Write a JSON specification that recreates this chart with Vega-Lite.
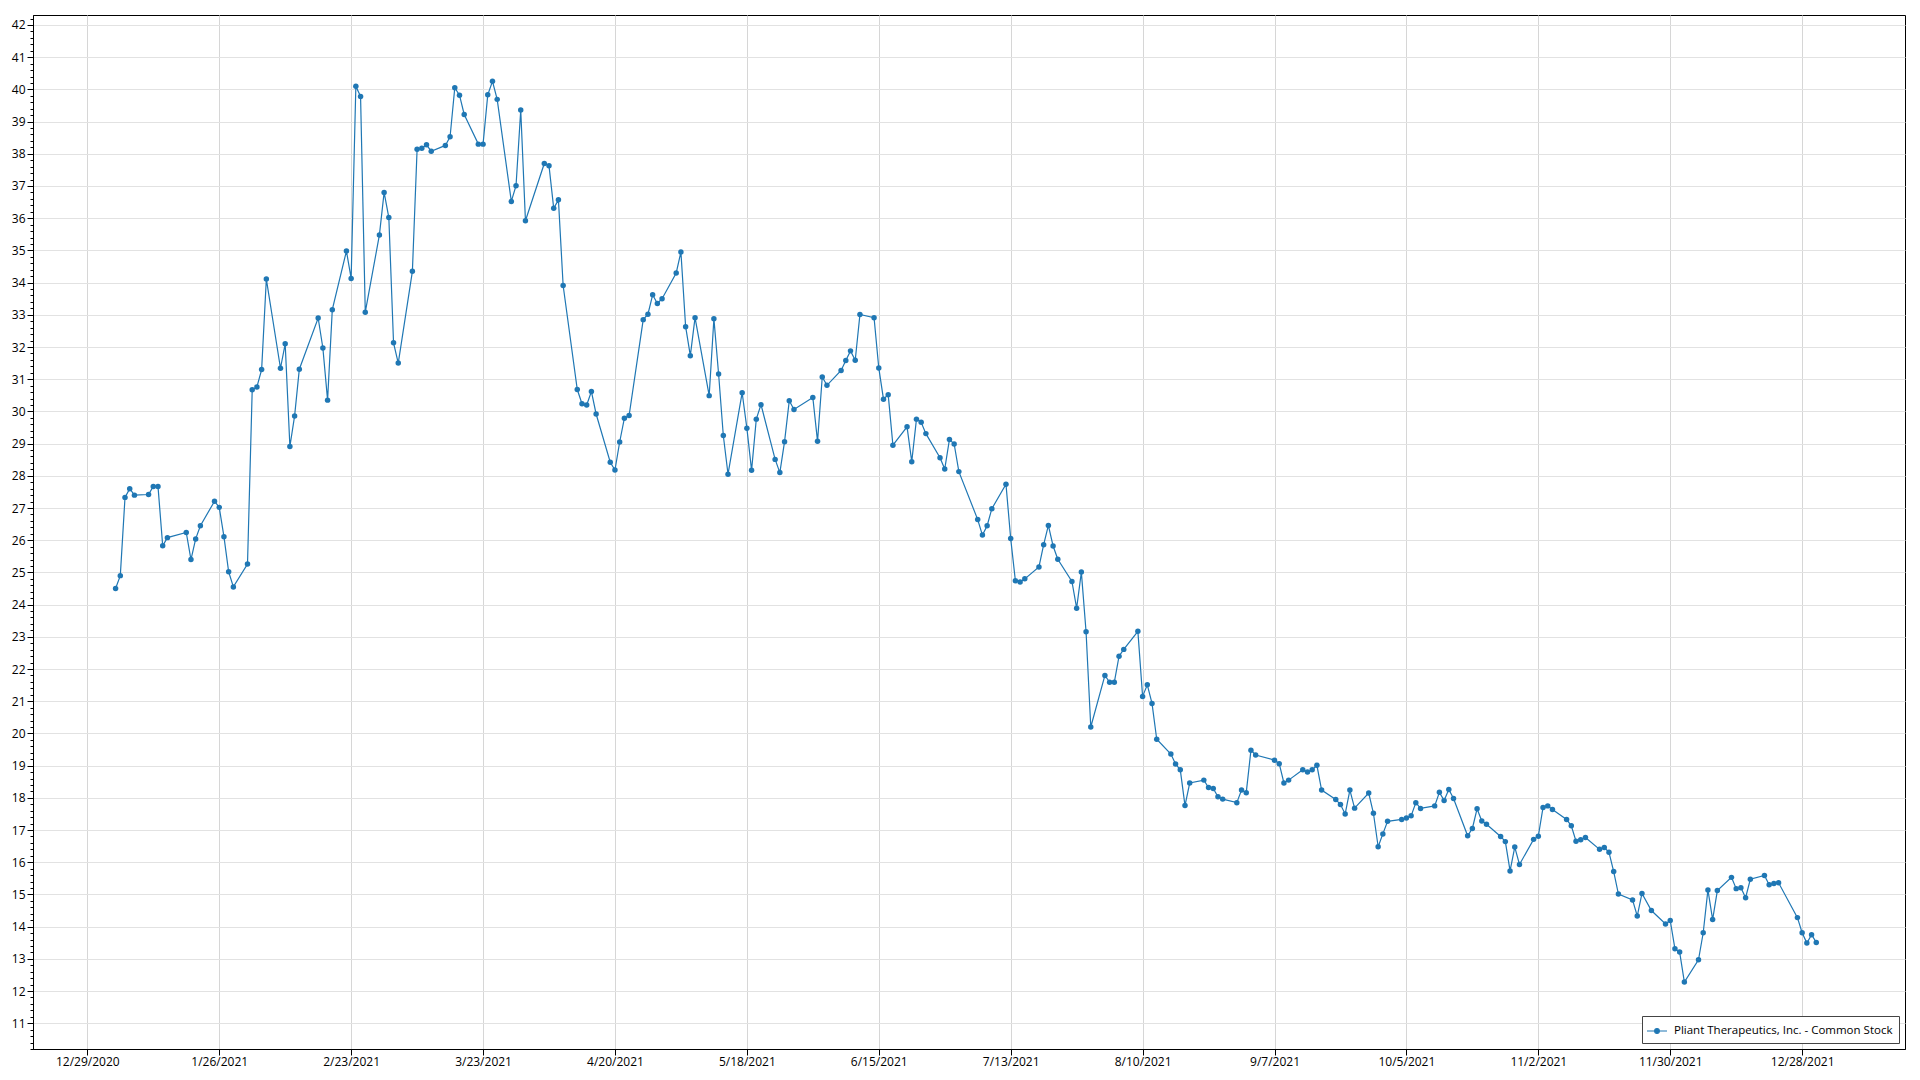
{
  "$schema": "https://vega.github.io/schema/vega-lite/v6.json",
  "autosize": "none",
  "width": 1872,
  "height": 1034,
  "padding": {"left": 33, "top": 15, "right": 15, "bottom": 31},
  "background": "white",
  "config": {
    "view": {"stroke": "#000000", "strokeWidth": 1},
    "axis": {"domainColor": "#000000", "tickColor": "#000000", "labelColor": "#000000", "labelFont": "Open Sans", "labelFontSize": 12, "title": null}
  },
  "data": {
    "values": [
      {"date": "2021-01-04", "close": 24.5}, {"date": "2021-01-05", "close": 24.9}, {"date": "2021-01-06", "close": 27.33}, {"date": "2021-01-07", "close": 27.6}, {"date": "2021-01-08", "close": 27.4},
      {"date": "2021-01-11", "close": 27.42}, {"date": "2021-01-12", "close": 27.67}, {"date": "2021-01-13", "close": 27.67}, {"date": "2021-01-14", "close": 25.83}, {"date": "2021-01-15", "close": 26.08},
      {"date": "2021-01-19", "close": 26.24}, {"date": "2021-01-20", "close": 25.4}, {"date": "2021-01-21", "close": 26.04}, {"date": "2021-01-22", "close": 26.45},
      {"date": "2021-01-25", "close": 27.21}, {"date": "2021-01-26", "close": 27.02}, {"date": "2021-01-27", "close": 26.11}, {"date": "2021-01-28", "close": 25.02}, {"date": "2021-01-29", "close": 24.55},
      {"date": "2021-02-01", "close": 25.26}, {"date": "2021-02-02", "close": 30.67}, {"date": "2021-02-03", "close": 30.76}, {"date": "2021-02-04", "close": 31.3}, {"date": "2021-02-05", "close": 34.11},
      {"date": "2021-02-08", "close": 31.34}, {"date": "2021-02-09", "close": 32.1}, {"date": "2021-02-10", "close": 28.91}, {"date": "2021-02-11", "close": 29.86}, {"date": "2021-02-12", "close": 31.31},
      {"date": "2021-02-16", "close": 32.9}, {"date": "2021-02-17", "close": 31.97}, {"date": "2021-02-18", "close": 30.35}, {"date": "2021-02-19", "close": 33.16},
      {"date": "2021-02-22", "close": 34.98}, {"date": "2021-02-23", "close": 34.13}, {"date": "2021-02-24", "close": 40.1}, {"date": "2021-02-25", "close": 39.78}, {"date": "2021-02-26", "close": 33.08},
      {"date": "2021-03-01", "close": 35.48}, {"date": "2021-03-02", "close": 36.8}, {"date": "2021-03-03", "close": 36.02}, {"date": "2021-03-04", "close": 32.13}, {"date": "2021-03-05", "close": 31.5},
      {"date": "2021-03-08", "close": 34.35}, {"date": "2021-03-09", "close": 38.14}, {"date": "2021-03-10", "close": 38.17}, {"date": "2021-03-11", "close": 38.28}, {"date": "2021-03-12", "close": 38.08},
      {"date": "2021-03-15", "close": 38.26}, {"date": "2021-03-16", "close": 38.53}, {"date": "2021-03-17", "close": 40.05}, {"date": "2021-03-18", "close": 39.82}, {"date": "2021-03-19", "close": 39.22},
      {"date": "2021-03-22", "close": 38.3}, {"date": "2021-03-23", "close": 38.3}, {"date": "2021-03-24", "close": 39.83}, {"date": "2021-03-25", "close": 40.25}, {"date": "2021-03-26", "close": 39.69},
      {"date": "2021-03-29", "close": 36.52}, {"date": "2021-03-30", "close": 37.01}, {"date": "2021-03-31", "close": 39.36},
      {"date": "2021-04-01", "close": 35.92},
      {"date": "2021-04-05", "close": 37.7}, {"date": "2021-04-06", "close": 37.63}, {"date": "2021-04-07", "close": 36.31}, {"date": "2021-04-08", "close": 36.57}, {"date": "2021-04-09", "close": 33.91},
      {"date": "2021-04-12", "close": 30.68}, {"date": "2021-04-13", "close": 30.24}, {"date": "2021-04-14", "close": 30.2}, {"date": "2021-04-15", "close": 30.62}, {"date": "2021-04-16", "close": 29.92},
      {"date": "2021-04-19", "close": 28.42}, {"date": "2021-04-20", "close": 28.18}, {"date": "2021-04-21", "close": 29.05}, {"date": "2021-04-22", "close": 29.79}, {"date": "2021-04-23", "close": 29.87},
      {"date": "2021-04-26", "close": 32.85}, {"date": "2021-04-27", "close": 33.02}, {"date": "2021-04-28", "close": 33.62}, {"date": "2021-04-29", "close": 33.35}, {"date": "2021-04-30", "close": 33.5},
      {"date": "2021-05-03", "close": 34.3}, {"date": "2021-05-04", "close": 34.95}, {"date": "2021-05-05", "close": 32.63}, {"date": "2021-05-06", "close": 31.73}, {"date": "2021-05-07", "close": 32.91},
      {"date": "2021-05-10", "close": 30.49}, {"date": "2021-05-11", "close": 32.88}, {"date": "2021-05-12", "close": 31.16}, {"date": "2021-05-13", "close": 29.25}, {"date": "2021-05-14", "close": 28.05},
      {"date": "2021-05-17", "close": 30.58}, {"date": "2021-05-18", "close": 29.48}, {"date": "2021-05-19", "close": 28.17}, {"date": "2021-05-20", "close": 29.76}, {"date": "2021-05-21", "close": 30.21},
      {"date": "2021-05-24", "close": 28.51}, {"date": "2021-05-25", "close": 28.1}, {"date": "2021-05-26", "close": 29.06}, {"date": "2021-05-27", "close": 30.33}, {"date": "2021-05-28", "close": 30.06},
      {"date": "2021-06-01", "close": 30.43}, {"date": "2021-06-02", "close": 29.07}, {"date": "2021-06-03", "close": 31.07}, {"date": "2021-06-04", "close": 30.81},
      {"date": "2021-06-07", "close": 31.27}, {"date": "2021-06-08", "close": 31.58}, {"date": "2021-06-09", "close": 31.88}, {"date": "2021-06-10", "close": 31.59}, {"date": "2021-06-11", "close": 33.01},
      {"date": "2021-06-14", "close": 32.91}, {"date": "2021-06-15", "close": 31.35}, {"date": "2021-06-16", "close": 30.38}, {"date": "2021-06-17", "close": 30.52}, {"date": "2021-06-18", "close": 28.95},
      {"date": "2021-06-21", "close": 29.52}, {"date": "2021-06-22", "close": 28.44}, {"date": "2021-06-23", "close": 29.76}, {"date": "2021-06-24", "close": 29.66}, {"date": "2021-06-25", "close": 29.31},
      {"date": "2021-06-28", "close": 28.56}, {"date": "2021-06-29", "close": 28.21}, {"date": "2021-06-30", "close": 29.13},
      {"date": "2021-07-01", "close": 28.99}, {"date": "2021-07-02", "close": 28.13},
      {"date": "2021-07-06", "close": 26.64}, {"date": "2021-07-07", "close": 26.16}, {"date": "2021-07-08", "close": 26.45}, {"date": "2021-07-09", "close": 26.98},
      {"date": "2021-07-12", "close": 27.74}, {"date": "2021-07-13", "close": 26.05}, {"date": "2021-07-14", "close": 24.74}, {"date": "2021-07-15", "close": 24.7}, {"date": "2021-07-16", "close": 24.8},
      {"date": "2021-07-19", "close": 25.17}, {"date": "2021-07-20", "close": 25.86}, {"date": "2021-07-21", "close": 26.46}, {"date": "2021-07-22", "close": 25.82}, {"date": "2021-07-23", "close": 25.41},
      {"date": "2021-07-26", "close": 24.72}, {"date": "2021-07-27", "close": 23.89}, {"date": "2021-07-28", "close": 25.01}, {"date": "2021-07-29", "close": 23.16}, {"date": "2021-07-30", "close": 20.2},
      {"date": "2021-08-02", "close": 21.8}, {"date": "2021-08-03", "close": 21.59}, {"date": "2021-08-04", "close": 21.59}, {"date": "2021-08-05", "close": 22.4}, {"date": "2021-08-06", "close": 22.61},
      {"date": "2021-08-09", "close": 23.17}, {"date": "2021-08-10", "close": 21.15}, {"date": "2021-08-11", "close": 21.51}, {"date": "2021-08-12", "close": 20.93}, {"date": "2021-08-13", "close": 19.82},
      {"date": "2021-08-16", "close": 19.36}, {"date": "2021-08-17", "close": 19.05}, {"date": "2021-08-18", "close": 18.87}, {"date": "2021-08-19", "close": 17.76}, {"date": "2021-08-20", "close": 18.46},
      {"date": "2021-08-23", "close": 18.55}, {"date": "2021-08-24", "close": 18.32}, {"date": "2021-08-25", "close": 18.29}, {"date": "2021-08-26", "close": 18.03}, {"date": "2021-08-27", "close": 17.96},
      {"date": "2021-08-30", "close": 17.85}, {"date": "2021-08-31", "close": 18.24},
      {"date": "2021-09-01", "close": 18.16}, {"date": "2021-09-02", "close": 19.48}, {"date": "2021-09-03", "close": 19.33},
      {"date": "2021-09-07", "close": 19.17}, {"date": "2021-09-08", "close": 19.06}, {"date": "2021-09-09", "close": 18.46}, {"date": "2021-09-10", "close": 18.55},
      {"date": "2021-09-13", "close": 18.87}, {"date": "2021-09-14", "close": 18.8}, {"date": "2021-09-15", "close": 18.87}, {"date": "2021-09-16", "close": 19.01}, {"date": "2021-09-17", "close": 18.24},
      {"date": "2021-09-20", "close": 17.95}, {"date": "2021-09-21", "close": 17.79}, {"date": "2021-09-22", "close": 17.5}, {"date": "2021-09-23", "close": 18.24}, {"date": "2021-09-24", "close": 17.68},
      {"date": "2021-09-27", "close": 18.15}, {"date": "2021-09-28", "close": 17.52}, {"date": "2021-09-29", "close": 16.48}, {"date": "2021-09-30", "close": 16.88},
      {"date": "2021-10-01", "close": 17.27},
      {"date": "2021-10-04", "close": 17.33}, {"date": "2021-10-05", "close": 17.37}, {"date": "2021-10-06", "close": 17.44}, {"date": "2021-10-07", "close": 17.85}, {"date": "2021-10-08", "close": 17.67},
      {"date": "2021-10-11", "close": 17.75}, {"date": "2021-10-12", "close": 18.17}, {"date": "2021-10-13", "close": 17.92}, {"date": "2021-10-14", "close": 18.26}, {"date": "2021-10-15", "close": 17.98},
      {"date": "2021-10-18", "close": 16.82}, {"date": "2021-10-19", "close": 17.05}, {"date": "2021-10-20", "close": 17.66}, {"date": "2021-10-21", "close": 17.28}, {"date": "2021-10-22", "close": 17.18},
      {"date": "2021-10-25", "close": 16.8}, {"date": "2021-10-26", "close": 16.64}, {"date": "2021-10-27", "close": 15.73}, {"date": "2021-10-28", "close": 16.47}, {"date": "2021-10-29", "close": 15.93},
      {"date": "2021-11-01", "close": 16.71}, {"date": "2021-11-02", "close": 16.81}, {"date": "2021-11-03", "close": 17.7}, {"date": "2021-11-04", "close": 17.75}, {"date": "2021-11-05", "close": 17.64},
      {"date": "2021-11-08", "close": 17.33}, {"date": "2021-11-09", "close": 17.13}, {"date": "2021-11-10", "close": 16.65}, {"date": "2021-11-11", "close": 16.7}, {"date": "2021-11-12", "close": 16.77},
      {"date": "2021-11-15", "close": 16.4}, {"date": "2021-11-16", "close": 16.46}, {"date": "2021-11-17", "close": 16.31}, {"date": "2021-11-18", "close": 15.71}, {"date": "2021-11-19", "close": 15.01},
      {"date": "2021-11-22", "close": 14.83}, {"date": "2021-11-23", "close": 14.33}, {"date": "2021-11-24", "close": 15.03}, {"date": "2021-11-26", "close": 14.5},
      {"date": "2021-11-29", "close": 14.08}, {"date": "2021-11-30", "close": 14.19},
      {"date": "2021-12-01", "close": 13.31}, {"date": "2021-12-02", "close": 13.21}, {"date": "2021-12-03", "close": 12.28},
      {"date": "2021-12-06", "close": 12.97}, {"date": "2021-12-07", "close": 13.81}, {"date": "2021-12-08", "close": 15.14}, {"date": "2021-12-09", "close": 14.22}, {"date": "2021-12-10", "close": 15.12},
      {"date": "2021-12-13", "close": 15.53}, {"date": "2021-12-14", "close": 15.18}, {"date": "2021-12-15", "close": 15.21}, {"date": "2021-12-16", "close": 14.9}, {"date": "2021-12-17", "close": 15.47},
      {"date": "2021-12-20", "close": 15.59}, {"date": "2021-12-21", "close": 15.3}, {"date": "2021-12-22", "close": 15.34}, {"date": "2021-12-23", "close": 15.36},
      {"date": "2021-12-27", "close": 14.28}, {"date": "2021-12-28", "close": 13.81}, {"date": "2021-12-29", "close": 13.49}, {"date": "2021-12-30", "close": 13.75}, {"date": "2021-12-31", "close": 13.51}
    ]
  },
  "mark": {"type": "line", "strokeWidth": 1.2, "point": {"filled": true, "size": 30, "opacity": 1}},
  "encoding": {
    "x": {
      "field": "date",
      "type": "temporal",
      "scale": {"type": "utc", "domain": [{"year": 2020, "month": 12, "date": 17, "hours": 11, "minutes": 15, "utc": true}, {"year": 2022, "month": 1, "date": 18, "hours": 20, "utc": true}]},
      "axis": {
        "values": [
          {"year": 2020, "month": 12, "date": 29, "utc": true}, {"year": 2021, "month": 1, "date": 26, "utc": true}, {"year": 2021, "month": 2, "date": 23, "utc": true},
          {"year": 2021, "month": 3, "date": 23, "utc": true}, {"year": 2021, "month": 4, "date": 20, "utc": true}, {"year": 2021, "month": 5, "date": 18, "utc": true},
          {"year": 2021, "month": 6, "date": 15, "utc": true}, {"year": 2021, "month": 7, "date": 13, "utc": true}, {"year": 2021, "month": 8, "date": 10, "utc": true},
          {"year": 2021, "month": 9, "date": 7, "utc": true}, {"year": 2021, "month": 10, "date": 5, "utc": true}, {"year": 2021, "month": 11, "date": 2, "utc": true},
          {"year": 2021, "month": 11, "date": 30, "utc": true}, {"year": 2021, "month": 12, "date": 28, "utc": true}
        ],
        "format": "%-m/%-d/%Y",
        "labelOverlap": false,
        "labelFlush": false,
        "tickSize": 6,
        "labelPadding": 1,
        "gridColor": "#d6d6d6",
        "grid": true
      }
    },
    "y": {
      "field": "close",
      "type": "quantitative",
      "scale": {"domain": [10.2, 42.31], "nice": false, "zero": false},
      "axis": {
        "tickCount": 160,
        "labelOverlap": false,
        "labelBound": false,
        "labelExpr": "abs(datum.value - round(datum.value)) < 0.01 ? format(round(datum.value), 'd') : ''",
        "tickSize": {"condition": {"test": "abs(datum.value - round(datum.value)) < 0.01", "value": 6}, "value": 3},
        "gridOpacity": {"condition": {"test": "abs(datum.value - round(datum.value)) < 0.01", "value": 1}, "value": 0},
        "gridColor": "#e2e2e2",
        "labelPadding": 2,
        "grid": true
      }
    },
    "color": {
      "datum": "Pliant Therapeutics, Inc. - Common Stock",
      "type": "nominal",
      "scale": {"range": ["#1f77b4"]},
      "legend": {
        "title": null,
        "orient": "bottom-right",
        "offset": 6,
        "padding": 6,
        "strokeColor": "#444444",
        "fillColor": "#ffffff",
        "symbolType": "M-1.25,0L1.25,0M-0.3,0A0.3,0.3,0,1,1,0.3,0A0.3,0.3,0,1,1,-0.3,0Z",
        "symbolSize": 256,
        "symbolStrokeWidth": 1.1,
        "labelFont": "Open Sans",
        "labelFontSize": 11.5,
        "labelColor": "#000000",
        "labelLimit": 500,
        "labelOffset": 8,
        "encode": {"symbols": {"update": {"fill": {"value": "#1f77b4"}, "stroke": {"value": "#1f77b4"}, "strokeWidth": {"value": 1.1}, "shape": {"value": "M-1.25,0L1.25,0M-0.3,0A0.3,0.3,0,1,1,0.3,0A0.3,0.3,0,1,1,-0.3,0Z"}}}}
      }
    }
  }
}
